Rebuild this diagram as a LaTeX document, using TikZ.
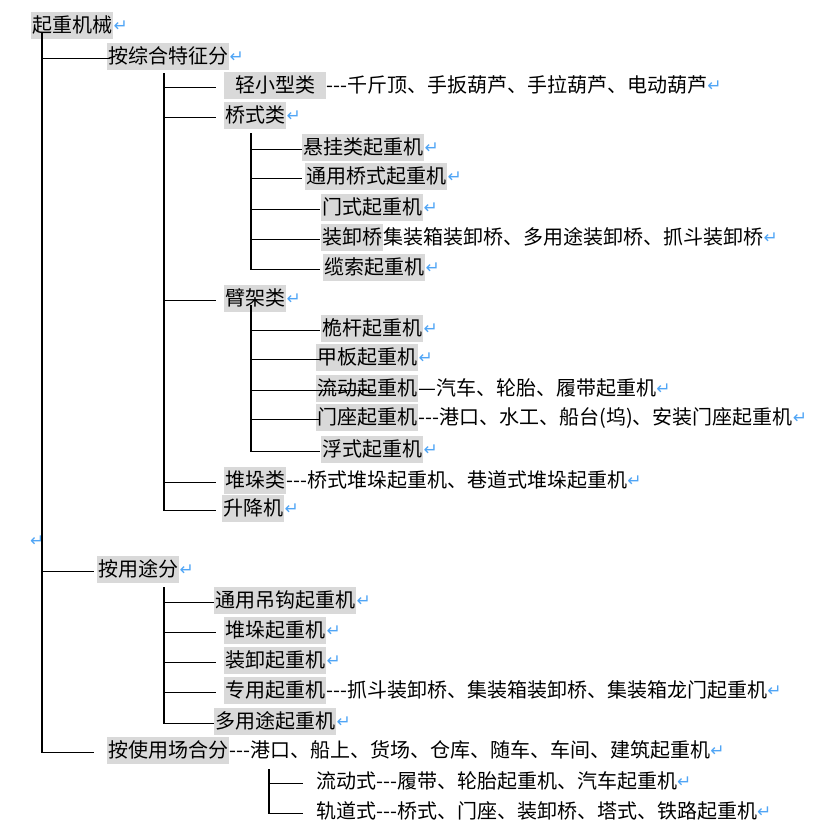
\documentclass[tikz,border=0pt]{standalone}
\usepackage{fontspec}
\newfontfamily\cjk{Noto Sans CJK SC}
\newfontfamily\retfont{DejaVu Sans}
\usetikzlibrary{calc,positioning}
\definecolor{hlgray}{RGB}{217,217,217}
\definecolor{retblue}{RGB}{80,165,245}
\newcommand{\ret}{{\retfont\fontsize{17}{17}\selectfont\color{retblue}\raisebox{1pt}{↵}}}

\tikzset{
  lbl/.style={anchor=west,inner xsep=1pt,inner ysep=3.5pt,text height=17pt,text depth=3pt,
    font=\cjk\fontsize{20}{24}\selectfont},
  hl/.style={lbl,fill=hlgray},
  tail/.style={lbl,inner xsep=0pt},
  branch/.style={line width=1.6pt},
}

\begin{document}
\begin{tikzpicture}[x=1pt,y=-1pt]
\useasboundingbox (0,0) rectangle (830,838);
% level 0 and 1
\node[hl] (root) at (31,25) {起重机械};
\node[tail,right=0pt of root] (root-t) {\ret};
\node[hl] (a1) at (107,56) {按综合特征分};
\node[tail,right=0pt of a1] (a1-t) {\ret};
\node[hl] (a2) at (97,569) {按用途分};
\node[tail,right=0pt of a2] (a2-t) {\ret};
\node[hl] (a3) at (107,750) {按使用场合分};
\node[tail,right=0pt of a3] (a3-t) {-{}-{}-港口、船上、货场、仓库、随车、车间、建筑起重机\ret};
\node[tail] (blank) at (30,540) {\ret};
% by features
\node[hl,inner xsep=11pt] (b1) at (224,85) {轻小型类};
\node[tail,right=0pt of b1] (b1-t) {-{}-{}-千斤顶、手扳葫芦、手拉葫芦、电动葫芦\ret};
\node[hl] (b2) at (224,115) {桥式类};
\node[tail,right=0pt of b2] (b2-t) {\ret};
\node[hl] (b3) at (224,298) {臂架类};
\node[tail,right=0pt of b3] (b3-t) {\ret};
\node[hl] (b4) at (224,480) {堆垛类};
\node[tail,right=0pt of b4] (b4-t) {-{}-{}-桥式堆垛起重机、巷道式堆垛起重机\ret};
\node[hl] (b5) at (222,508) {升降机};
\node[tail,right=0pt of b5] (b5-t) {\ret};
% bridge type
\node[hl] (c1) at (302,147) {悬挂类起重机};
\node[tail,right=0pt of c1] (c1-t) {\ret};
\node[hl] (c2) at (305,176) {通用桥式起重机};
\node[tail,right=0pt of c2] (c2-t) {\ret};
\node[hl] (c3) at (321,207) {门式起重机};
\node[tail,right=0pt of c3] (c3-t) {\ret};
\node[hl] (c4) at (321,237) {装卸桥};
\node[tail,right=0pt of c4] (c4-t) {集装箱装卸桥、多用途装卸桥、抓斗装卸桥\ret};
\node[hl] (c5) at (323,267) {缆索起重机};
\node[tail,right=0pt of c5] (c5-t) {\ret};
% jib type
\node[hl] (d1) at (321,328) {桅杆起重机};
\node[tail,right=0pt of d1] (d1-t) {\ret};
\node[hl] (d2) at (316,357) {甲板起重机};
\node[tail,right=0pt of d2] (d2-t) {\ret};
\node[hl] (d3) at (316,388) {流动起重机};
\node[tail,right=0pt of d3] (d3-t) {—汽车、轮胎、履带起重机\ret};
\node[hl] (d4) at (316,417) {门座起重机};
\node[tail,right=0pt of d4] (d4-t) {-{}-{}-港口、水工、船台(坞)、安装门座起重机\ret};
\node[hl] (d5) at (321,449) {浮式起重机};
\node[tail,right=0pt of d5] (d5-t) {\ret};
% by use
\node[hl] (e1) at (214,600) {通用吊钩起重机};
\node[tail,right=0pt of e1] (e1-t) {\ret};
\node[hl] (e2) at (224,630) {堆垛起重机};
\node[tail,right=0pt of e2] (e2-t) {\ret};
\node[hl] (e3) at (224,660) {装卸起重机};
\node[tail,right=0pt of e3] (e3-t) {\ret};
\node[hl] (e4) at (224,690) {专用起重机};
\node[tail,right=0pt of e4] (e4-t) {-{}-{}-抓斗装卸桥、集装箱装卸桥、集装箱龙门起重机\ret};
\node[hl] (e5) at (214,721) {多用途起重机};
\node[tail,right=0pt of e5] (e5-t) {\ret};
% by place
\node[tail] (f1) at (316,781) {流动式-{}-{}-履带、轮胎起重机、汽车起重机\ret};
\node[tail] (f2) at (316,811) {轨道式-{}-{}-桥式、门座、装卸桥、塔式、铁路起重机\ret};

% tree lines
\coordinate (v1) at (42,33);
\coordinate (v2) at (164,73);
\coordinate (vc) at (251,133);
\coordinate (vd) at (251,305);
\coordinate (ve) at (164,587);
\coordinate (vf) at (269,769);
\draw[branch] (v1) |- ($(a3.west)+(-13,2.5)$);
\foreach \n/\dx in {a1/3,a2/-3}
  \draw[branch] ($(v1 |- \n.west)+(0,2.5)$) -- ($(\n.west)+(\dx,2.5)$);
\draw[branch] (v2) |- ($(b5.west)+(-6,2.5)$);
\foreach \n/\dx in {b1/-8,b2/-8,b3/-8,b4/-8}
  \draw[branch] ($(v2 |- \n.west)+(0,2.5)$) -- ($(\n.west)+(\dx,2.5)$);
\draw[branch] (vc) |- ($(c5.west)+(-3,2.5)$);
\foreach \n/\dx in {c1/0,c2/-3,c3/-1,c4/-1}
  \draw[branch] ($(vc |- \n.west)+(0,2.5)$) -- ($(\n.west)+(\dx,2.5)$);
\draw[branch] (vd) |- ($(d5.west)+(-1,2.5)$);
\foreach \n/\dx in {d1/-1,d2/4,d3/57,d4/3}
  \draw[branch] ($(vd |- \n.west)+(0,2.5)$) -- ($(\n.west)+(\dx,2.5)$);
\draw[branch] (ve) |- ($(e5.west)+(0,2.5)$);
\foreach \n/\dx in {e1/0,e2/-8,e3/-8,e4/-8}
  \draw[branch] ($(ve |- \n.west)+(0,2.5)$) -- ($(\n.west)+(\dx,2.5)$);
\draw[branch] (vf) |- ($(f2.west)+(-13,2.5)$);
\draw[branch] ($(vf |- f1.west)+(0,2.5)$) -- ($(f1.west)+(-13,2.5)$);
\end{tikzpicture}
\end{document}
